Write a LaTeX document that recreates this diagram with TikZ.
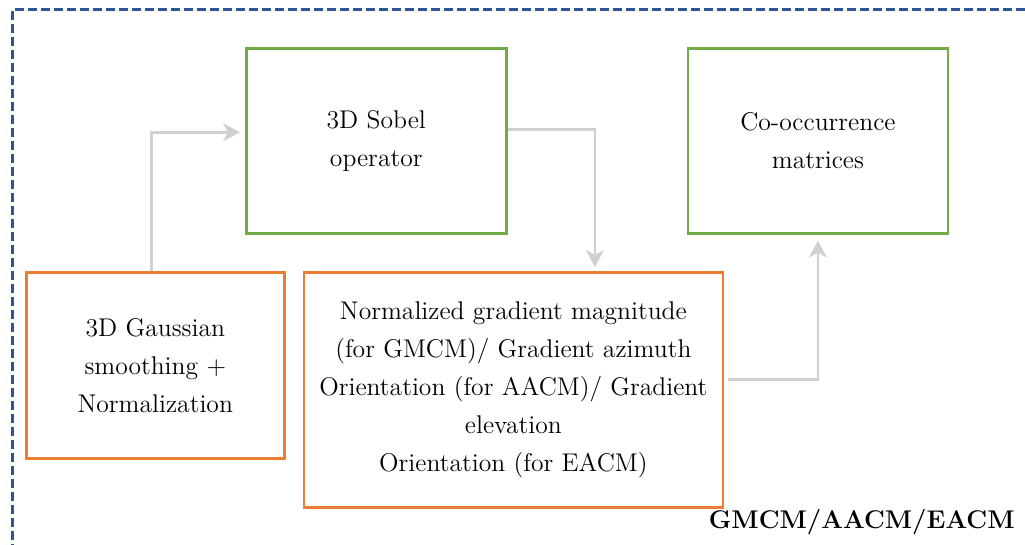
\documentclass[tikz,border=0pt]{standalone}
\usepackage{xcolor}
\usepackage{tikz}
\usetikzlibrary{arrows.meta, positioning}

\definecolor{frameblue}{HTML}{2F5597}
\definecolor{boxgreen}{HTML}{70AD47}
\definecolor{boxorange}{HTML}{ED7D31}
\definecolor{flowgray}{HTML}{D0D0D0}

\begin{document}
\begin{tikzpicture}[
                x=0.5pt, y=-0.5pt,
                font=\fontsize{12.8}{19}\selectfont,
                stage/.style={rectangle, draw, line width=1.3pt, align=center, inner sep=2pt},
                greenbox/.style={stage, draw=boxgreen, minimum width=130pt, minimum height=92.5pt},
                orangebox/.style={stage, draw=boxorange},
                flow/.style={draw=flowgray, line width=1.4pt, -{Stealth[length=8.5pt, width=9pt, inset=2.5pt]}}
            ]
                \useasboundingbox (0,0) rectangle (1025,545);

                % Dashed frame
                \draw[frameblue, line width=1.5pt, dash pattern=on 4.5pt off 2pt] (1025,10) -- (12,10) -- (12,545);

                % Stage nodes
                \node[greenbox, anchor=north west] (sobel) at (245,47) {3D Sobel\\operator};
                \node[greenbox, right=89.5pt of sobel] (cooc) {Co-occurrence\\matrices};
                \node[orangebox, minimum width=129pt, minimum height=93pt, anchor=north west] (gauss) at (25,271) {3D Gaussian\\smoothing +\\Normalization};
                \node[orangebox, minimum width=209.5pt, minimum height=117.5pt, below right=0pt and 8.5pt of gauss.north east] (grad)
                    {Normalized gradient magnitude\\(for GMCM)/ Gradient azimuth\\Orientation (for AACM)/ Gradient\\elevation\\Orientation (for EACM)};

                % Edges
                \draw[flow, shorten >=2.5pt] ([xshift=-2pt]gauss.north) |- ([yshift=4.25pt]sobel.west);
                \draw[flow, shorten >=2pt] ([yshift=5.75pt]sobel.east) -| ([xshift=40.75pt]grad.north);
                \draw[flow, shorten <=2pt, shorten >=3pt] ([yshift=5.25pt]grad.east) -| (cooc.south);

                % Tag
                \node[anchor=east, inner sep=0pt, font=\fontsize{12.8}{15}\bfseries] (tag) at (1015,522) {GMCM/AACM/EACM};
            \end{tikzpicture}
\end{document}
